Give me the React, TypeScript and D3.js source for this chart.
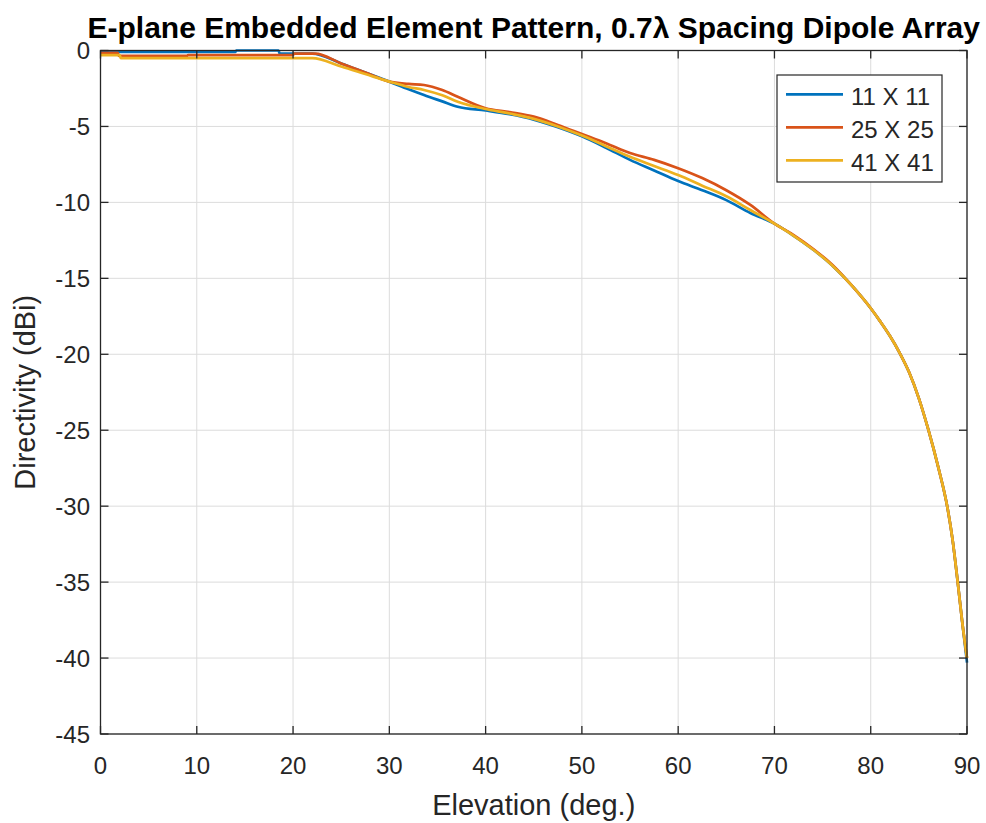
import React from "react";
import * as d3 from "d3";

const xTicks = [0, 10, 20, 30, 40, 50, 60, 70, 80, 90];
const yTicks = [0, -5, -10, -15, -20, -25, -30, -35, -40, -45];
const seriesNames = ["11 X 11", "25 X 25", "41 X 41"];
const seriesColors = ["#0072BD", "#D95319", "#EDB120"];

// [elevation deg, directivity dBi]
const s11: [number, number][] = [
  [0, -0.1], [14, -0.1], [14.1, 0], [18.5, 0], [18.6, -0.2], [22, -0.2],
  [25, -0.85], [27.5, -1.45], [30, -2.05], [32, -2.55], [33.6, -2.93],
  [35.5, -3.35], [37.1, -3.7], [40, -3.95], [42.5, -4.2], [45, -4.55],
  [47.5, -5.05], [50, -5.65], [52.5, -6.4], [55, -7.2], [57.5, -7.9],
  [60, -8.6], [62.5, -9.2], [65, -9.85], [67.5, -10.7], [70, -11.4],
  [72, -12.2], [74, -13.1], [76, -14.15], [78, -15.45], [80, -16.97],
  [81, -17.85], [82, -18.8], [83, -19.9], [84, -21.2], [85, -22.9],
  [86, -25], [87, -27.4], [88, -30.2], [88.5, -32.2], [89, -34.8],
  [89.5, -37.6], [90, -40.3],
];
const s25: [number, number][] = [
  [0, -0.15], [1.8, -0.15], [1.9, -0.35], [9, -0.35], [9.1, -0.3], [20, -0.3],
  [20.1, -0.2], [22.3, -0.2], [25, -0.85], [27.5, -1.45], [30, -2.05],
  [32, -2.2], [33.6, -2.27], [35.5, -2.6], [37.1, -3.04], [40, -3.8],
  [42.5, -4.05], [45, -4.35], [47.5, -4.9], [50, -5.5], [52.5, -6.1],
  [55, -6.75], [57.5, -7.2], [60, -7.75], [62.5, -8.4], [65, -9.2],
  [67.5, -10.17], [70, -11.4], [72, -12.15], [74, -13.05], [76, -14.1],
  [78, -15.45], [80, -16.97], [81, -17.85], [82, -18.8], [83, -19.9],
  [84, -21.2], [85, -22.9], [86, -25], [87, -27.4], [88, -30.2],
  [88.5, -32.2], [89, -34.8], [89.5, -37.6], [90, -40],
];
const s41: [number, number][] = [
  [0, -0.3], [2, -0.3], [2.1, -0.5], [22, -0.5], [25, -1.05], [27.5, -1.55],
  [30, -2.05], [32, -2.4], [33.6, -2.6], [35.5, -2.95], [37.1, -3.37],
  [40, -3.85], [42.5, -4.15], [45, -4.5], [47.5, -5.0], [50, -5.6],
  [52.5, -6.3], [55, -7.0], [57.5, -7.6], [60, -8.2], [62.5, -8.9],
  [65, -9.6], [67.5, -10.5], [70, -11.4], [72, -12.2], [74, -13.1],
  [76, -14.15], [78, -15.45], [80, -16.97], [81, -17.85], [82, -18.8],
  [83, -19.9], [84, -21.2], [85, -22.9], [86, -25], [87, -27.4],
  [88, -30.2], [88.5, -32.2], [89, -34.8], [89.5, -37.6], [90, -40],
];
const allSeries = [s11, s25, s41];

const W = 986;
const H = 823;
const left = 100.5;
const right = 967;
const top = 50.5;
const bottom = 734;
const font = "'Liberation Sans', Arial, Helvetica, sans-serif";
const axisColor = "#262626";

export default function App() {
  const x = d3.scaleLinear().domain([0, 90]).range([left, right]);
  const y = d3.scaleLinear().domain([-45, 0]).range([bottom, top]);
  const line = d3
    .line<[number, number]>()
    .x((d) => x(d[0]))
    .y((d) => y(d[1]))
    .curve(d3.curveMonotoneX);

  const legendX = 777;
  const legendY = 75;
  const legendW = 165;
  const legendH = 107;

  return (
    <svg
      width={W}
      height={H}
      style={{ position: "absolute", left: 0, top: 0, background: "#fff" }}
      fontFamily={font}
    >
      <rect x={0} y={0} width={W} height={H} fill="#fff" />
      <defs>
        <clipPath id="plotclip">
          <rect x={left} y={top - 2} width={right - left + 2} height={bottom - top + 2} />
        </clipPath>
      </defs>
      {/* grid */}
      {xTicks.map((t) => (
        <line key={"gx" + t} x1={x(t)} x2={x(t)} y1={top} y2={bottom} stroke="#dcdcdc" strokeWidth={1} />
      ))}
      {yTicks.map((t) => (
        <line key={"gy" + t} x1={left} x2={right} y1={y(t)} y2={y(t)} stroke="#dcdcdc" strokeWidth={1} />
      ))}
      {/* series */}
      <g clipPath="url(#plotclip)">
        {allSeries.map((s, i) => (
          <path
            key={i}
            d={line(s) || ""}
            fill="none"
            stroke={seriesColors[i]}
            strokeWidth={2.7}
            strokeLinejoin="round"
          />
        ))}
      </g>
      {/* box */}
      <rect x={left} y={top} width={right - left} height={bottom - top} fill="none" stroke={axisColor} strokeWidth={1.3} />
      {/* ticks */}
      {xTicks.map((t) => (
        <g key={"tx" + t}>
          <line x1={x(t)} x2={x(t)} y1={bottom} y2={bottom - 8} stroke={axisColor} strokeWidth={1.3} />
          <line x1={x(t)} x2={x(t)} y1={top} y2={top + 8} stroke={axisColor} strokeWidth={1.3} />
          <text x={x(t)} y={774} textAnchor="middle" fontSize={24} fill={axisColor}>
            {t}
          </text>
        </g>
      ))}
      {yTicks.map((t) => (
        <g key={"ty" + t}>
          <line x1={left} x2={left + 8} y1={y(t)} y2={y(t)} stroke={axisColor} strokeWidth={1.3} />
          <line x1={right} x2={right - 8} y1={y(t)} y2={y(t)} stroke={axisColor} strokeWidth={1.3} />
          <text x={90} y={y(t) + 8.5} textAnchor="end" fontSize={24} fill={axisColor}>
            {t}
          </text>
        </g>
      ))}
      {/* axis labels */}
      <text x={(left + right) / 2} y={815} textAnchor="middle" fontSize={29} fill={axisColor}>
        Elevation (deg.)
      </text>
      <text
        transform={`translate(35, ${(top + bottom) / 2}) rotate(-90)`}
        textAnchor="middle"
        fontSize={29}
        fill={axisColor}
      >
        Directivity (dBi)
      </text>
      {/* title */}
      <text x={(left + right) / 2} y={38} textAnchor="middle" fontSize={30} fontWeight="bold" fill="#000">
        E-plane Embedded Element Pattern, 0.7λ Spacing Dipole Array
      </text>
      {/* legend */}
      <rect x={legendX} y={legendY} width={legendW} height={legendH} fill="#fff" stroke={axisColor} strokeWidth={1.2} />
      {seriesNames.map((n, i) => {
        const ly = 94.3 + i * 33;
        return (
          <g key={n}>
            <line x1={786} x2={843} y1={ly} y2={ly} stroke={seriesColors[i]} strokeWidth={2.7} />
            <text x={851} y={ly + 10.5} fontSize={24} fill={axisColor}>
              {n}
            </text>
          </g>
        );
      })}
    </svg>
  );
}
